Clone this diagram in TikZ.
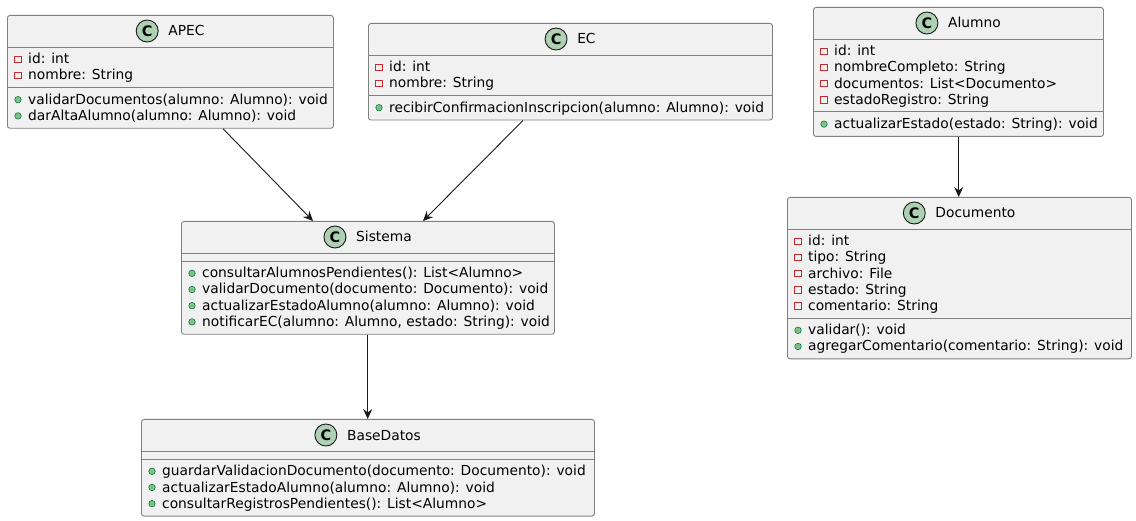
\documentclass[tikz,border=0pt]{standalone}
\usepackage{fontspec}
\setmainfont{DejaVu Sans}
\usetikzlibrary{calc,arrows.meta}
\definecolor{boxfill}{HTML}{F1F1F1}
\definecolor{boxline}{HTML}{808080}
\definecolor{circfill}{HTML}{ADD1B2}
\definecolor{inkline}{HTML}{181818}
\definecolor{privred}{HTML}{C82930}
\definecolor{pubfill}{HTML}{84BE84}
\definecolor{publine}{HTML}{038048}
\tikzset{
  clsbox/.style={draw=boxline, fill=boxfill, line width=0.9pt, rounded corners=2.5pt, inner sep=0pt, rectangle},
  sepline/.style={draw=boxline, line width=0.9pt},
  clsname/.style={inner sep=0pt, font=\fontsize{13.8}{16}\selectfont, text=black},
  circC/.style={circle, draw=inkline, fill=circfill, line width=0.9pt, minimum size=22pt, inner sep=0pt, font=\bfseries\fontsize{14.5}{15}\selectfont},
  mem/.style={inner sep=0pt, font=\fontsize{13.8}{16}\selectfont, text=black},
  privicon/.style={rectangle, draw=privred, line width=0.9pt, minimum size=6.5pt, inner sep=0pt},
  pubicon/.style={circle, draw=publine, fill=pubfill, line width=0.6pt, minimum size=6.5pt, inner sep=0pt},
  arr/.style={draw=inkline, line width=0.9pt, -{Stealth[length=10pt, width=9pt, inset=3.5pt]}}
}
% #1 name, #2 x, #3 y, #4 width, #5 title, #6 nattr, #7 attrs, #8 nmeth, #9 methods
\newcommand\umlclass[9]{%
  \pgfmathsetmacro\hA{#6*16.2+8}%
  \pgfmathsetmacro\hM{#8*16.2+8}%
  \pgfmathsetmacro\hT{32+\hA+\hM}%
  \node[clsbox, anchor=north west, minimum width=#4pt, minimum height=\hT pt] (#1) at (#2,#3) {};
  \pgfmathsetmacro\sA{32}%
  \pgfmathsetmacro\sM{32+\hA}%
  \draw[sepline] ($(#1.north west)+(0,\sA)$) -- ($(#1.north east)+(0,\sA)$);
  \draw[sepline] ($(#1.north west)+(0,\sM)$) -- ($(#1.north east)+(0,\sM)$);
  \node[clsname, anchor=base] (#1-name) at ($(#1.north)+(16,21)$) {#5};
  \node[circC] (#1-circ) at ($(#1-name.base west)+(-21,-5)$) {C};
  \foreach \t [count=\i] in {#7} {
    \pgfmathsetmacro\yy{\sA+16.8+(\i-1)*16.2}
    \node[mem, anchor=base west] (#1-a\i) at ($(#1.north west)+(21,\yy)$) {\t};
    \node[privicon] (#1-ai\i) at ($(#1.north west)+(11,\yy-4.5)$) {};
  }
  \foreach \t [count=\i] in {#9} {
    \pgfmathsetmacro\yy{\sM+16.8+(\i-1)*16.2}
    \node[mem, anchor=base west] (#1-m\i) at ($(#1.north west)+(21,\yy)$) {\t};
    \node[pubicon] (#1-mi\i) at ($(#1.north west)+(11,\yy-4.5)$) {};
  }
}
\begin{document}
\begin{tikzpicture}[x=1pt,y=-1pt]
\useasboundingbox (0,0) rectangle (1136,521);
\umlclass{apec}{7}{15}{326}{APEC}{2}{{id: int},{nombre: String}}{2}{{validarDocumentos(alumno: Alumno): void},{darAltaAlumno(alumno: Alumno): void}}
\umlclass{ec}{368}{23}{404}{EC}{2}{{id: int},{nombre: String}}{1}{{recibirConfirmacionInscripcion(alumno: Alumno): void}}
\umlclass{alumno}{813}{7}{290}{Alumno}{4}{{id: int},{nombreCompleto: String},{documentos: List<Documento>},{estadoRegistro: String}}{1}{{actualizarEstado(estado: String): void}}
\umlclass{documento}{787}{197}{344}{Documento}{5}{{id: int},{tipo: String},{archivo: File},{estado: String},{comentario: String}}{2}{{validar(): void},{agregarComentario(comentario: String): void}}
\umlclass{sistema}{181}{221}{373}{Sistema}{0}{}{4}{{consultarAlumnosPendientes(): List<Alumno>},{validarDocumento(documento: Documento): void},{actualizarEstadoAlumno(alumno: Alumno): void},{notificarEC(alumno: Alumno, estado: String): void}}
\umlclass{basedatos}{141}{419}{453}{BaseDatos}{0}{}{3}{{guardarValidacionDocumento(documento: Documento): void},{actualizarEstadoAlumno(alumno: Alumno): void},{consultarRegistrosPendientes(): List<Alumno>}}
\coordinate (apecOut) at ($(apec.south west)+(216,0)$);
\coordinate (sisInA) at ($(sistema.north west)+(132,0)$);
\coordinate (ecOut) at ($(ec.south west)+(155,0)$);
\coordinate (sisInE) at ($(sistema.north west)+(242,0)$);
\coordinate (alOut) at ($(alumno.south west)+(145.7,0)$);
\coordinate (docIn) at ($(documento.north west)+(171.7,0)$);
\coordinate (sisOut) at ($(sistema.south west)+(186.7,0)$);
\coordinate (bdIn) at ($(basedatos.north west)+(226.7,0)$);
\draw[arr] (apecOut) -- (sisInA);
\draw[arr] (ecOut) -- (sisInE);
\draw[arr] (alOut) -- (docIn);
\draw[arr] (sisOut) -- (bdIn);
\end{tikzpicture}
\end{document}
